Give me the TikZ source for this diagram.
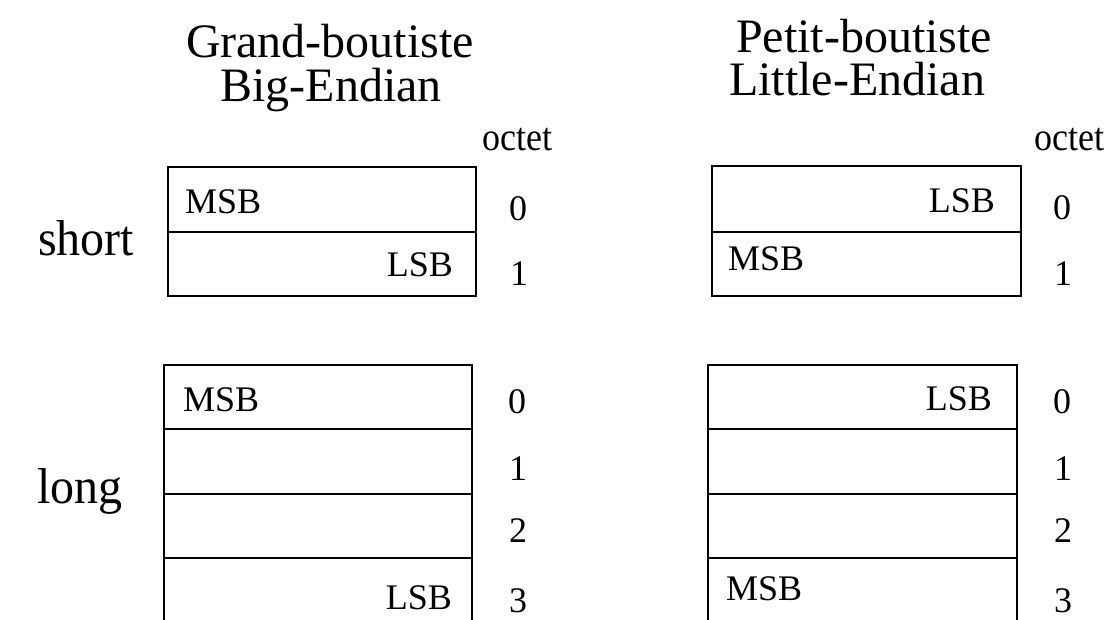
\documentclass[tikz,border=0pt]{standalone}
\usepackage{fontspec}
\usepackage{graphicx}
\setmainfont{Liberation Serif}
\begin{document}
\begin{tikzpicture}[x=1pt,y=-1pt,
  big/.style={font=\fontsize{48}{54}\selectfont, inner sep=0pt},
  small/.style={font=\fontsize{36}{40}\selectfont, inner sep=0pt},
  frame/.style={line width=1.3pt},
  thick divider/.style={line width=2.4pt},
  thin divider/.style={line width=1.3pt}]
\useasboundingbox (0,0) rectangle (1107,619);
\clip (0,0) rectangle (1107,619);
% headers
\node[big, anchor=base] (gb) at (330,57) {Grand-boutiste};
\node[big, anchor=base] (be) at (331,101) {Big-Endian};
\node[big, anchor=base] (pb) at (864,52) {Petit-boutiste};
\node[big, anchor=base] (le) at (857,95) {Little-Endian};
\node[small, anchor=base] (oct1) at (517,150) {\scalebox{1}[1.1]{octet}};
\node[small, anchor=base] (oct2) at (1069,150) {\scalebox{1}[1.1]{octet}};
\node[big, anchor=base] (short) at (86,255) {\scalebox{1}[1.05]{short}};
\node[big, anchor=base] (long) at (80,503) {\scalebox{1}[1.05]{long}};
% short big-endian
\draw[frame] (168,167) rectangle (476,296);
\draw[thick divider] (168,232) -- (476,232);
\node[small, anchor=base west] (s1msb) at (185,213) {MSB};
\node[small, anchor=base east] (s1lsb) at (453,276) {LSB};
\node[small, anchor=base] (s1n0) at (518,220) {0};
\node[small, anchor=base] (s1n1) at (519,285) {1};
% short little-endian
\draw[frame] (712,166) rectangle (1021,296);
\draw[thick divider] (712,232) -- (1021,232);
\node[small, anchor=base east] (s2lsb) at (995,212) {LSB};
\node[small, anchor=base west] (s2msb) at (728,270) {MSB};
\node[small, anchor=base] (s2n0) at (1062,219) {0};
\node[small, anchor=base] (s2n1) at (1063,285) {1};
% long big-endian
\draw[frame] (164,640) -- (164,365) -- (472,365) -- (472,640);
\draw[thin divider] (164,429) -- (472,429);
\draw[thick divider] (164,494) -- (472,494);
\draw[thick divider] (164,558) -- (472,558);
\node[small, anchor=base west] (l1msb) at (183,411) {MSB};
\node[small, anchor=base east] (l1lsb) at (452,609) {LSB};
\node[small, anchor=base] (l1n0) at (517,413) {0};
\node[small, anchor=base] (l1n1) at (518,480) {1};
\node[small, anchor=base] (l1n2) at (518,542) {2};
\node[small, anchor=base] (l1n3) at (518,612) {3};
% long little-endian
\draw[frame] (708,640) -- (708,365) -- (1017,365) -- (1017,640);
\draw[thin divider] (708,429) -- (1017,429);
\draw[thick divider] (708,494) -- (1017,494);
\draw[thick divider] (708,558) -- (1017,558);
\node[small, anchor=base east] (l2lsb) at (992,410) {LSB};
\node[small, anchor=base west] (l2msb) at (726,600) {MSB};
\node[small, anchor=base] (l2n0) at (1062,413) {0};
\node[small, anchor=base] (l2n1) at (1063,480) {1};
\node[small, anchor=base] (l2n2) at (1063,542) {2};
\node[small, anchor=base] (l2n3) at (1063,612) {3};
\end{tikzpicture}
\end{document}
